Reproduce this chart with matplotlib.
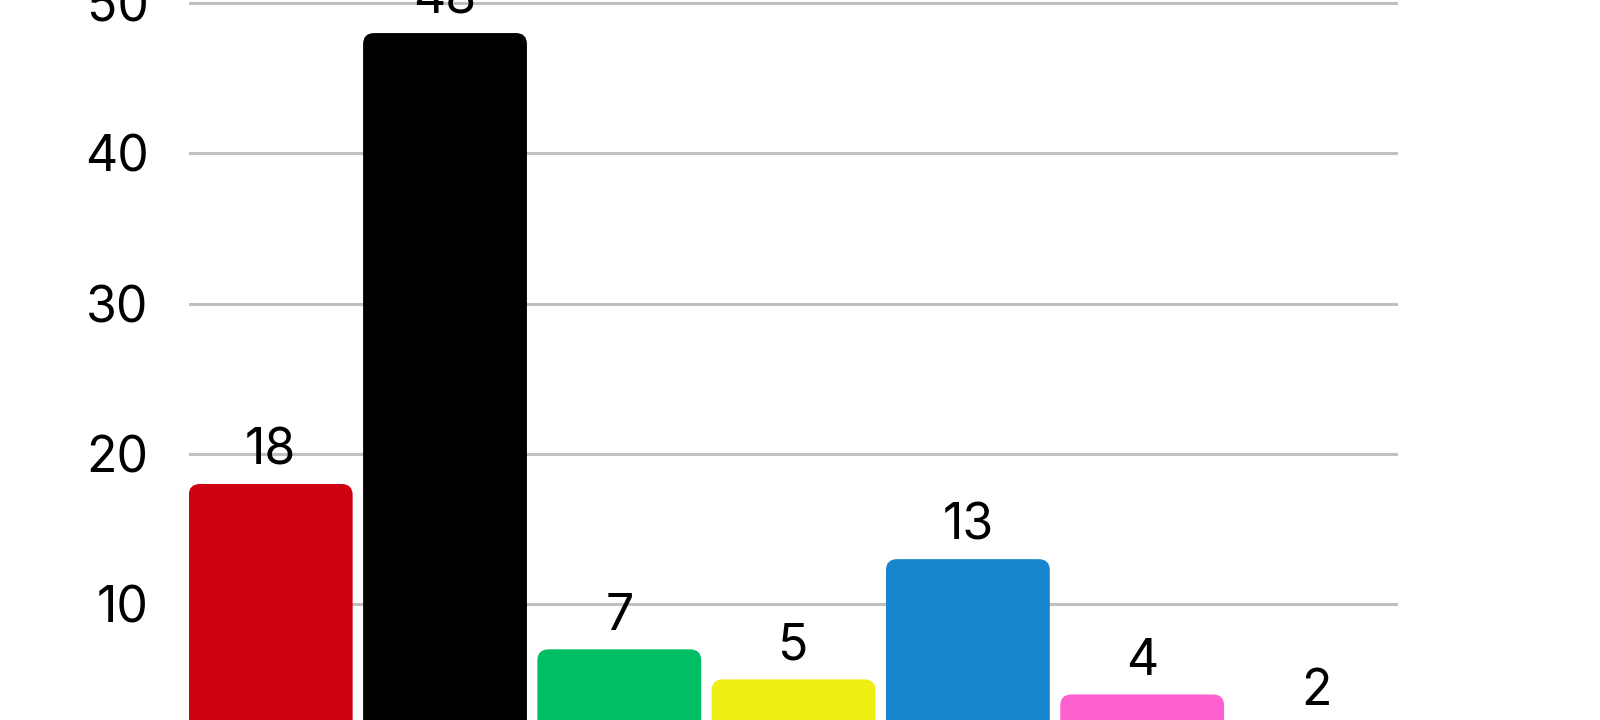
import matplotlib.pyplot as plt
from matplotlib.patches import FancyBboxPatch

# Werte der Balken (untere Hälfte des Diagramms ist abgeschnitten)
parteien = ["SPD", "CDU", "Grüne", "FDP", "AfD", "Linke", "Sonstige"]
werte = [18, 48, 7, 5, 13, 4, 2]
farben = ["#CF000F", "#000000", "#00BE63", "#EEEE13", "#1785CC", "#FF60CF", "#A6A6A6"]
y_ticks = [10, 20, 30, 40, 50]

plt.rcParams['font.family'] = ['Inter', 'DejaVu Sans']

fig = plt.figure(figsize=(16, 7.2), dpi=100)
ax = fig.add_axes([0.118, 0.0, 0.756, 1.0])

x = list(range(len(parteien)))
bars = ax.bar(x, werte, width=0.94, color=farben, zorder=3)

ax.set_xlim(-0.47, len(parteien) - 0.53)
ax.set_ylim(2.3, 50.2)

# Balken durch abgerundete Rechtecke ersetzen
px_x = 0.756 * 1600 / (len(parteien) - 0.06)
px_y = 720 / (50.2 - 2.3)
r = 11 / px_x
for b in bars:
    b.set_visible(False)
    patch = FancyBboxPatch((b.get_x(), b.get_y()), b.get_width(), b.get_height(),
                           boxstyle=f"round,pad=0,rounding_size={r}",
                           mutation_aspect=px_x / px_y,
                           facecolor=b.get_facecolor(), edgecolor='none', zorder=3)
    ax.add_patch(patch)

for xi, v in zip(x, werte):
    ax.annotate(str(v), (xi, v), xytext=(0, 14), textcoords='offset points',
                ha='center', va='baseline', fontsize=36, color='black',
                annotation_clip=False)

ax.set_yticks(y_ticks)
ax.set_yticklabels([str(t) for t in y_ticks], fontsize=36, color='black')
ax.set_xticks([])
ax.tick_params(axis='y', length=0, pad=29)
ax.grid(axis='y', color='#C0C0C0', linewidth=2.2, zorder=0)
for s in ax.spines.values():
    s.set_visible(False)

fig.savefig("out.png", dpi=100)
